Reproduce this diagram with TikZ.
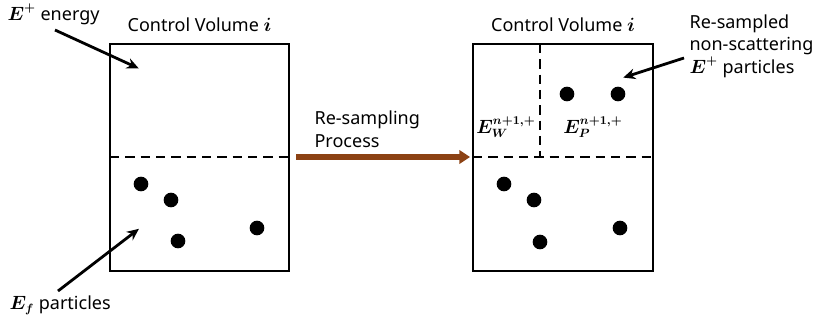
\documentclass[tikz,border=0pt]{standalone}
\usepackage{amsmath}
\usepackage{fontspec}
\setmainfont{Noto Sans}
\usepackage{tikz}
\usetikzlibrary{arrows.meta,positioning,calc}

\definecolor{procbrown}{RGB}{140,66,20}

\begin{document}
\begin{tikzpicture}[
  x=0.75pt, y=-0.75pt,
  >=Stealth,
  every node/.style={inner sep=1pt},
  lbl/.style={font=\fontsize{13.5}{17}\selectfont, align=left},
  cvbox/.style={draw, line width=2.1pt},
  split/.style={line width=1.9pt, dash pattern=on 7pt off 4.5pt},
  dot/.style={circle, fill=black, inner sep=0pt, minimum size=11pt},
  pointer/.style={line width=2.1pt, shorten >=1pt, -{Stealth[length=9pt,width=8pt]}},
  process/.style={line width=4.5pt, draw=procbrown, -{Triangle[length=8pt,width=10pt]}}
]
\useasboundingbox (0,0) rectangle (824,324);

% --- Control volume before re-sampling ---
\draw[cvbox] (110,44) coordinate (cvL-nw) rectangle (289,271) coordinate (cvL-se);
\draw[split] (110,157) coordinate (cvL-w) -- (289,157) coordinate (cvL-e);
\node[lbl] (cvL-title) at (199.5,25) {Control Volume $\boldsymbol{i}$};
\foreach \p [count=\k] in {(141,184),(171,200),(178,241),(257,228)} {
  \node[dot] (dL\k) at \p {};
}

% --- labels on the left ---
\node[lbl, anchor=west] (eplus) at (6,14) {$\boldsymbol{E}^{\boldsymbol{+}}$ energy};
\node[lbl, anchor=west] (ef) at (8,305) {$\boldsymbol{E_f}$ particles};
\coordinate (eplus-tip) at (140,69);
\coordinate (ef-tip) at (140,228);
\draw[pointer] (55,30) -- (eplus-tip);
\draw[pointer] (58,291) -- (ef-tip);

% --- re-sampling process ---
\coordinate (proc-start) at (296,157);
\coordinate (proc-end) at (470,157);
\draw[process] (proc-start) -- (proc-end);
\node[lbl, anchor=south west] (proc) at (313,149) {Re-sampling\\Process};

% --- Control volume after re-sampling ---
\draw[cvbox] (473,44) coordinate (cvR-nw) rectangle (653,271) coordinate (cvR-se);
\draw[split] (473,157) coordinate (cvR-w) -- (653,157) coordinate (cvR-e);
\draw[split] (540,44) coordinate (cvR-n) -- (540,157) coordinate (cvR-m);
\node[lbl] (cvR-title) at (563,25) {Control Volume $\boldsymbol{i}$};
\foreach \p [count=\k] in {(504,184),(534,200),(540,242),(620,228)} {
  \node[dot] (dR\k) at \p {};
}
\node[dot] (nsA) at (567,94) {};
\node[dot] (nsB) at (618,94) {};
\node[lbl] (ew) at (506,127) {$\boldsymbol{E_W^{n+1,+}}$};
\node[lbl] (ep) at (593,127) {$\boldsymbol{E_P^{n+1,+}}$};

% --- label on the right ---
\node[lbl, anchor=north west] (resamp) at (688,13) {Re-sampled\\non-scattering\\$\boldsymbol{E}^{\boldsymbol{+}}$ particles};
\coordinate (resamp-tip) at (622,78);
\draw[pointer] (684,58) -- (resamp-tip);

\end{tikzpicture}
\end{document}
